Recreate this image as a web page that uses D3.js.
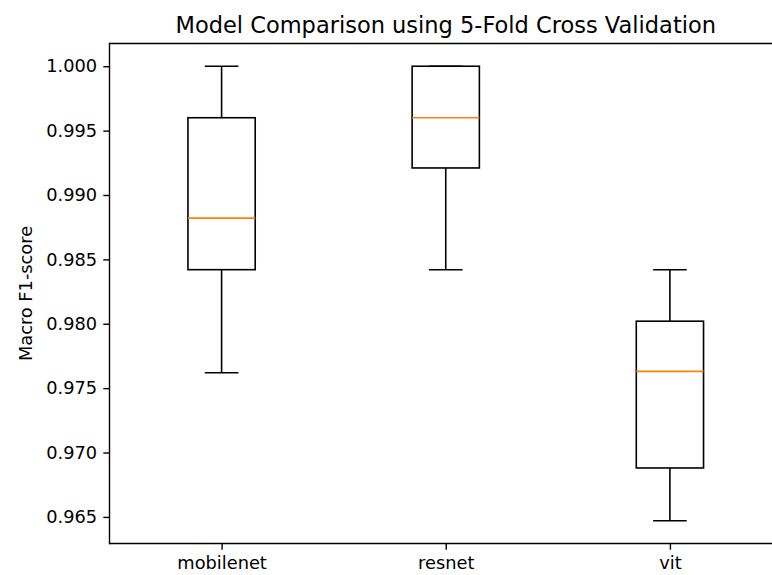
<!DOCTYPE html>
<html>
<head>
<meta charset="utf-8">
<script src="https://cdn.jsdelivr.net/npm/d3@7"></script>
<style>
  html, body { margin: 0; padding: 0; background: #ffffff; overflow: hidden; }
  svg { display: block; overflow: hidden; }
  text { font-family: "DejaVu Sans", sans-serif; fill: #000; }
</style>
</head>
<body>
<script>
// ---- data (5-fold macro F1 scores per model) ----
const categories = ["mobilenet", "resnet", "vit"];
const mobilenetScores = [0.9762, 0.9842, 0.9882, 0.9960, 1.0000];
const resnetScores    = [0.9842, 0.9921, 0.9960, 1.0000, 1.0000];
const vitScores       = [0.9647, 0.9688, 0.9763, 0.9802, 0.9842];
const yTickValues = [0.965, 0.970, 0.975, 0.980, 0.985, 0.990, 0.995, 1.000];
const titleText = "Model Comparison using 5-Fold Cross Validation";
const yLabelText = "Macro F1-score";

(function () {
const seriesList = [mobilenetScores, resnetScores, vitScores];

const W = 772, H = 575;
const mLeft = 109.5, mRight = 782, mTop = 43.5, mBottom = 543.5;

const svg = d3.select("body").append("svg")
  .attr("width", W).attr("height", H).attr("viewBox", `0 0 ${W} ${H}`);

// stats like matplotlib boxplot (linear percentiles, whis=1.5)
const stats = seriesList.map((vals, i) => {
  const s = vals.slice().sort(d3.ascending);
  const q1 = d3.quantile(s, 0.25), med = d3.quantile(s, 0.5), q3 = d3.quantile(s, 0.75);
  const iqr = q3 - q1;
  const lo = d3.min(s.filter(v => v >= q1 - 1.5 * iqr));
  const hi = d3.max(s.filter(v => v <= q3 + 1.5 * iqr));
  return { pos: i + 1, name: categories[i], q1, med, q3, lo, hi };
});

const dmin = d3.min(stats, d => d.lo), dmax = d3.max(stats, d => d.hi);
const pad = (dmax - dmin) * 0.05;

const x = d3.scaleLinear().domain([0.5, categories.length + 0.5]).range([mLeft, mRight]);
const y = d3.scaleLinear().domain([dmin - pad, dmax + pad]).range([mBottom, mTop]);

const boxW = 0.3, capW = 0.15;
const lw = 1.6;

const g = svg.append("g");

stats.forEach(s => {
  const cx = x(s.pos);
  const bx0 = x(s.pos - boxW / 2), bx1 = x(s.pos + boxW / 2);
  const cx0 = x(s.pos - capW / 2), cx1 = x(s.pos + capW / 2);
  g.append("line").attr("x1", cx).attr("x2", cx).attr("y1", y(s.q1)).attr("y2", y(s.lo))
    .attr("stroke", "#000").attr("stroke-width", lw);
  g.append("line").attr("x1", cx).attr("x2", cx).attr("y1", y(s.q3)).attr("y2", y(s.hi))
    .attr("stroke", "#000").attr("stroke-width", lw);
  g.append("line").attr("x1", cx0).attr("x2", cx1).attr("y1", y(s.lo)).attr("y2", y(s.lo))
    .attr("stroke", "#000").attr("stroke-width", lw);
  g.append("line").attr("x1", cx0).attr("x2", cx1).attr("y1", y(s.hi)).attr("y2", y(s.hi))
    .attr("stroke", "#000").attr("stroke-width", lw);
  g.append("rect").attr("x", bx0).attr("y", y(s.q3))
    .attr("width", bx1 - bx0).attr("height", y(s.q1) - y(s.q3))
    .attr("fill", "none").attr("stroke", "#000").attr("stroke-width", lw);
  g.append("line").attr("x1", bx0).attr("x2", bx1).attr("y1", y(s.med)).attr("y2", y(s.med))
    .attr("stroke", "#ff7f0e").attr("stroke-width", lw);
});

const fontPx = 17.8;
const yAxis = d3.axisLeft(y).tickValues(yTickValues).tickFormat(d3.format(".3f"))
  .tickSize(6.2).tickPadding(6.2);
const xAxis = d3.axisBottom(x).tickValues(stats.map(s => s.pos))
  .tickFormat(d => categories[d - 1]).tickSize(6.2).tickPadding(6.2);

const ya = svg.append("g").attr("transform", `translate(${mLeft},0)`).call(yAxis);
const xa = svg.append("g").attr("transform", `translate(0,${mBottom})`).call(xAxis);
[ya, xa].forEach(a => {
  a.select(".domain").remove();
  a.selectAll(".tick line").attr("stroke", "#000").attr("stroke-width", 1.4);
  a.selectAll(".tick text").style("font-size", fontPx + "px")
    .style("font-family", "'DejaVu Sans', sans-serif").attr("fill", "#000");
});

// spines: left, top, bottom (right spine falls outside the canvas)
const spines = svg.append("g").attr("stroke", "#000").attr("stroke-width", 1.4);
spines.append("line").attr("x1", mLeft).attr("x2", mLeft).attr("y1", mTop - 0.7).attr("y2", mBottom + 0.7);
spines.append("line").attr("x1", mLeft).attr("x2", mRight).attr("y1", mTop).attr("y2", mTop);
spines.append("line").attr("x1", mLeft).attr("x2", mRight).attr("y1", mBottom).attr("y2", mBottom);

svg.append("text").attr("x", (mLeft + mRight) / 2).attr("y", 33)
  .attr("text-anchor", "middle").style("font-size", "22.5px").text(titleText);

svg.append("text")
  .attr("transform", `translate(31.5,${(mTop + mBottom) / 2}) rotate(-90)`)
  .attr("text-anchor", "middle").style("font-size", fontPx + "px").text(yLabelText);
})();
</script>
</body>
</html>
